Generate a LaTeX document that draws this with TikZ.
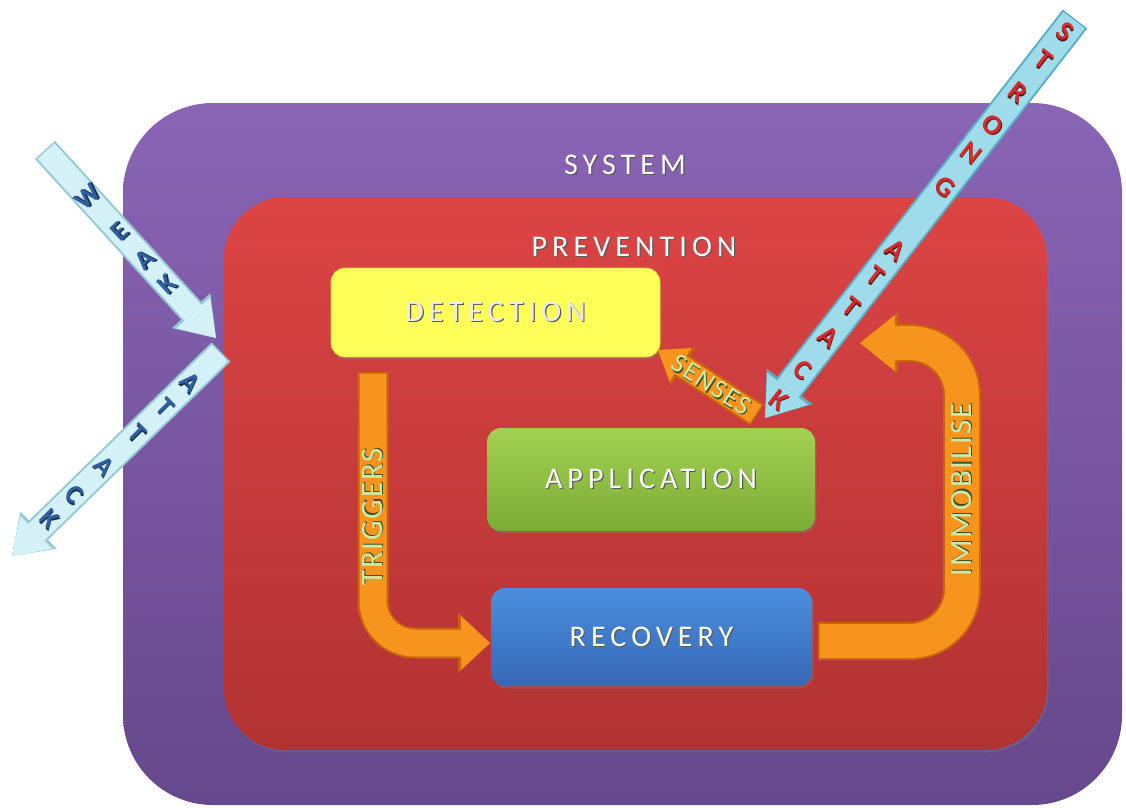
\documentclass[tikz,border=0pt]{standalone}
\usepackage{fontspec}
\setmainfont{Carlito}
\newfontfamily\capsfont[LetterSpace=17]{Carlito}
\newfontfamily\flowfont[LetterSpace=6]{Carlito}
\usetikzlibrary{arrows.meta,shadows,calc}

\definecolor{sysTop}{HTML}{8A64B5}
\definecolor{sysBot}{HTML}{66488C}
\definecolor{prevTop}{HTML}{DC4444}
\definecolor{prevBot}{HTML}{B23232}
\definecolor{detFill}{HTML}{FFFF5A}
\definecolor{detEdge}{HTML}{D6D63A}
\definecolor{appTop}{HTML}{A2D152}
\definecolor{appBot}{HTML}{7BAC34}
\definecolor{recTop}{HTML}{4B8FDE}
\definecolor{recBot}{HTML}{3568B6}
\definecolor{flowFill}{HTML}{F7941E}
\definecolor{flowEdge}{HTML}{C7650C}
\definecolor{flowText}{HTML}{CBEAA6}
\definecolor{flowTextShade}{HTML}{3F4F22}
\definecolor{weakFill}{HTML}{D4F1F7}
\definecolor{weakEdge}{HTML}{93C8D4}
\definecolor{weakText}{HTML}{2F5F9E}
\definecolor{weakShade}{HTML}{17304F}
\definecolor{strongFill}{HTML}{9EDCEB}
\definecolor{strongEdge}{HTML}{5AAEC4}
\definecolor{strongText}{HTML}{D42C2C}
\definecolor{strongShade}{HTML}{5A1010}
\definecolor{titleShade}{HTML}{5A5A5A}
\definecolor{detText}{HTML}{ECECEC}

% text with a small dark offset copy behind it
\newcommand\embossed[2]{\makebox[0pt][l]{\hspace*{1.2pt}\raisebox{-1.2pt}{\textcolor{#1}{#2}}}#2}

\begin{document}
\begin{tikzpicture}[x=1pt,y=-1pt,
  region/.style={rectangle, inner sep=0pt, outer sep=0pt},
  box/.style={rectangle, rounded corners=14pt, inner sep=0pt, outer sep=0pt,
    font=\capsfont\fontsize{30}{30}\selectfont, text=white,
    drop shadow={shadow xshift=1.5pt, shadow yshift=-2.5pt, opacity=.35}},
  title/.style={inner sep=0pt, font=\capsfont\fontsize{30}{30}\selectfont, text=white},
  flowlabel/.style={inner sep=0pt, font=\flowfont\fontsize{31}{31}\selectfont, text=flowText},
  flowedge/.style args={#1/#2/#3/#4}{draw=flowEdge, line width=#1, rounded corners=#4,
    -{Triangle[length=#2, width=#3, line width=0pt]}},
  flowfill/.style args={#1/#2/#3/#4}{draw=flowFill, line width=#1, rounded corners=#4,
    shorten <=1.5pt, -{Triangle[length=#2, width=#3, line width=0pt]}},
  weakedge/.style={draw=weakEdge, line width=27pt, -{Triangle[length=37pt, width=52pt, line width=0pt]}},
  weakfill/.style={draw=weakFill, line width=23pt, shorten <=1.5pt, -{Triangle[length=34pt, width=46pt, line width=0pt]}},
  strongedge/.style={draw=strongEdge, line width=31pt, -{Triangle[length=40pt, width=58pt, line width=0pt]}},
  strongfill/.style={draw=strongFill, line width=27pt, shorten <=1.5pt, -{Triangle[length=37pt, width=52pt, line width=0pt]}},
  weakletter/.style={inner sep=0pt, font=\bfseries\fontsize{27}{27}\selectfont, text=weakText},
  strongletter/.style={inner sep=0pt, font=\bfseries\fontsize{28}{28}\selectfont, text=strongText}
]
\useasboundingbox (0,0) rectangle (1126,807);

% nested regions
\node[region, rounded corners=90pt, top color=sysTop, bottom color=sysBot,
  minimum width=999pt, minimum height=702pt] (system) at (622.5,454) {};
\node[region, rounded corners=62pt, top color=prevTop, bottom color=prevBot,
  drop shadow={shadow xshift=1.5pt, shadow yshift=-2.5pt, opacity=.3},
  minimum width=823pt, minimum height=553pt] (prevention) at (635.5,473.5) {};

\node[title] (systemlabel) at ($(system.north)+(2.5,62)$) {\embossed{titleShade}{SYSTEM}};
\node[title] (preventionlabel) at ($(prevention.north)+(-1.5,50)$) {\embossed{titleShade}{PREVENTION}};

% the three stages
\node[box, fill=detFill, draw=detEdge, line width=0.8pt, text=detText,
  minimum width=329pt, minimum height=89pt] (detection) at (495.5,312.5)
  {\embossed{titleShade}{DETECTION}};
\node[box, top color=appTop, bottom color=appBot,
  minimum width=328pt, minimum height=103pt] (application) at (651,479.5)
  {\embossed{titleShade}{APPLICATION}};
\node[box, top color=recTop, bottom color=recBot,
  minimum width=321pt, minimum height=98pt] (recovery) at (651.5,637)
  {\embossed{titleShade}{RECOVERY}};

% detection triggers recovery
\coordinate (trigStart) at ($(detection.south west)+(42,15)$);
\coordinate (trigEnd) at ($(recovery.west)+(-1,6)$);
\draw[flowedge=31pt/32pt/60pt/42pt] (trigStart) |- (trigEnd);
\draw[flowfill=27pt/29pt/54pt/42pt] (trigStart) |- (trigEnd);
\node[flowlabel, rotate=90] (triggerslabel) at ($(trigStart)+(0,145)$)
  {\embossed{flowTextShade}{TRIGGERS}};

% recovery immobilises
\coordinate (immStart) at ($(recovery.east)+(6,4)$);
\coordinate (immCorner) at (962,343);
\coordinate (immEnd) at ($(detection.east)+(200,30.5)$);
\draw[flowedge=38pt/38pt/62pt/52pt] (immStart) -| (immCorner) -- (immEnd);
\draw[flowfill=34pt/35pt/56pt/52pt] (immStart) -| (immCorner) -- (immEnd);
\node[flowlabel, rotate=90] (immobiliselabel) at (962,490)
  {\embossed{flowTextShade}{IMMOBILISE}};

% application senses detection
\coordinate (sensesStart) at ($(application.north)+(106,-13)$);
\coordinate (sensesTip) at ($(detection.south east)+(-2,-7)$);
\draw[flowedge=25pt/30pt/46pt/0pt] (sensesStart) -- (sensesTip);
\draw[flowfill=21pt/27pt/40pt/0pt] (sensesStart) -- (sensesTip);
\path (sensesStart) -- (sensesTip)
  node[pos=0.46, rotate=-33, inner sep=0pt, font=\flowfont\fontsize{27}{27}\selectfont, text=flowText]
  (senseslabel) {\embossed{flowTextShade}{SENSES}};

% strong attack reaching the application
\coordinate (strongTail) at (1075,19);
\coordinate (strongTip) at ($(application.north east)+(-50,-10)$);
\draw[strongedge] (strongTail) -- (strongTip);
\draw[strongfill] (strongTail) -- (strongTip);
\foreach \p/\l [count=\i] in {0.033/S,0.103/T,0.185/R,0.266/O,0.336/N,0.421/G,
    0.579/A,0.645/T,0.722/T,0.797/A,0.88/C,0.955/K}
  \path (strongTail) -- (strongTip)
    node[pos=\p, strongletter, rotate=-38, name=strong\i] {\embossed{strongShade}{\l}};

% weak attack turned back by prevention
\coordinate (weakTail) at (45,150);
\coordinate (weakHit) at ($(prevention.west)+(-8,-135.5)$);
\coordinate (weakBounce) at ($(prevention.west)+(-3,-121.5)$);
\coordinate (weakAway) at (12,556);
\draw[weakedge] (weakTail) -- (weakHit);
\draw[weakfill] (weakTail) -- (weakHit);
\draw[weakedge] (weakBounce) -- (weakAway);
\draw[weakfill] (weakBounce) -- (weakAway);
\foreach \p/\l [count=\i] in {0.25/W,0.436/E,0.585/A,0.718/K}
  \path (weakTail) -- (weakHit)
    node[pos=\p, weakletter, rotate=43, name=weak\i] {\embossed{weakShade}{\l}};
\foreach \p/\l [count=\i] in {0.15/A,0.27/T,0.40/T,0.56/A,0.70/C,0.82/K}
  \path (weakBounce) -- (weakAway)
    node[pos=\p, weakletter, rotate=-45, name=attack\i] {\embossed{weakShade}{\l}};
\end{tikzpicture}
\end{document}
